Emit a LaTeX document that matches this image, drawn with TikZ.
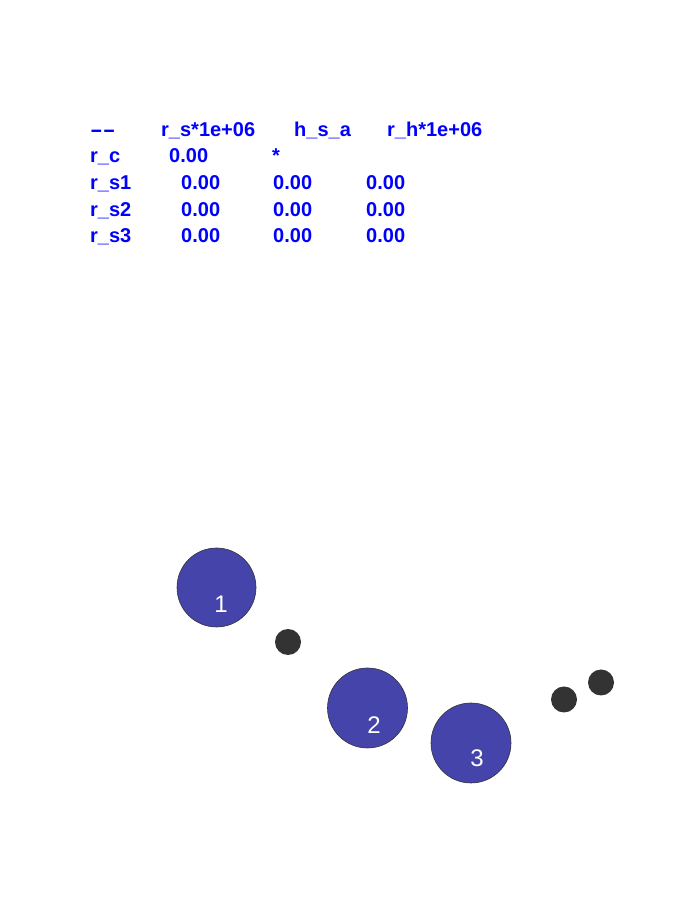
\documentclass[tikz,border=0pt]{standalone}
\usepackage{fontspec}
\setmainfont{Liberation Sans}
\definecolor{tblue}{RGB}{0,0,255}
\definecolor{cfill}{RGB}{68,68,170}
\definecolor{dark}{RGB}{51,51,51}
\tikzset{
  cell/.style={anchor=base west, inner sep=0pt, text=tblue, font=\fontsize{20}{20}\selectfont\bfseries},
  bigc/.style={circle, draw=black!80, line width=0.6pt, fill=cfill},
  smallc/.style={circle, fill=dark, inner sep=0pt, minimum size=26pt},
  lbl/.style={anchor=base, inner sep=0pt, text=white, font=\fontsize{24}{24}\selectfont}
}
\begin{document}
\begin{tikzpicture}[x=1pt,y=1pt]
\useasboundingbox[fill=white] (0,0) rectangle (700,900);
% table
\node[cell] (h0) at (90,763) {\scalebox{1.9}[1]{-{}-}};
\node[cell] (h1) at (161,763) {r\_s*1e+06};
\node[cell] (h2) at (294,763) {h\_s\_a};
\node[cell] (h3) at (387,763) {r\_h*1e+06};
\node[cell] (c0) at (90,737) {r\_c};
\node[cell] (c1) at (169,737) {0.00};
\node[cell] (c2) at (272,737) {*};
\node[cell] (a0) at (90,710) {r\_s1};
\node[cell] (a1) at (181,710) {0.00};
\node[cell] (a2) at (273,710) {0.00};
\node[cell] (a3) at (366,710) {0.00};
\node[cell] (b0) at (90,683) {r\_s2};
\node[cell] (b1) at (181,683) {0.00};
\node[cell] (b2) at (273,683) {0.00};
\node[cell] (b3) at (366,683) {0.00};
\node[cell] (d0) at (90,657) {r\_s3};
\node[cell] (d1) at (181,657) {0.00};
\node[cell] (d2) at (273,657) {0.00};
\node[cell] (d3) at (366,657) {0.00};
% circles
\draw[bigc] (216.5,312.5) circle (39.5);
\draw[bigc] (367.5,192) circle (40);
\draw[bigc] (471,157) circle (40);
\node[lbl] (l1) at (221,287) {1};
\node[lbl] (l2) at (374,166) {2};
\node[lbl] (l3) at (477,133) {3};
\node[smallc] (s1) at (288,258) {};
\node[smallc] (s2) at (564,200.5) {};
\node[smallc] (s3) at (601,217.5) {};
\end{tikzpicture}
\end{document}
